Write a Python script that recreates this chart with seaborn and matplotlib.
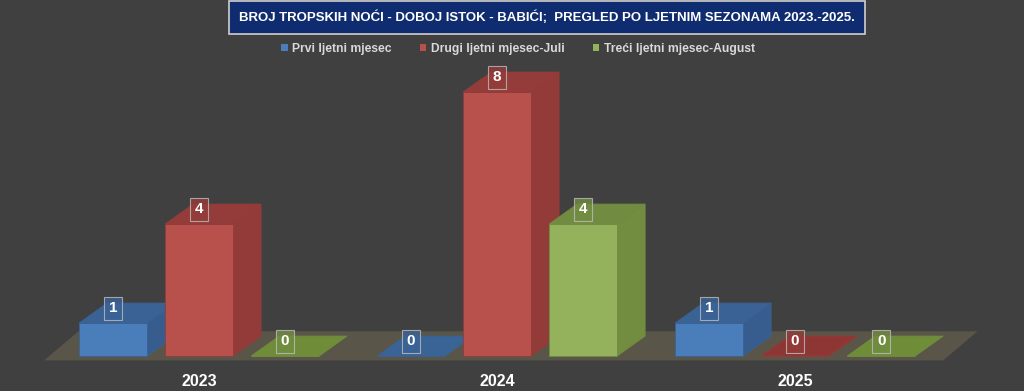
import pandas as pd
import seaborn as sns
import matplotlib.pyplot as plt
from matplotlib.patches import Polygon
from matplotlib import font_manager
import numpy as np

# Data
years = ['2023', '2024', '2025']
series = ['Prvi ljetni mjesec', 'Drugi ljetni mjesec-Juli', 'Treći ljetni mjesec-August']
prvi = [1, 0, 1]
drugi = [4, 8, 0]
treci = [0, 4, 0]

df = pd.DataFrame({
    'godina': years * 3,
    'serija': [series[0]] * 3 + [series[1]] * 3 + [series[2]] * 3,
    'noci': prvi + drugi + treci,
})

# colours: front, top, side
front = ['#4a7ebb', '#b8504c', '#94b25b']
top = ['#3a6295', '#933c3a', '#718c40']
side = ['#365d8e', '#923b39', '#728d40']
flat = ['#3a6396', '#8e3634', '#6f8c38']
bg = '#404040'

names = {f.name for f in font_manager.fontManager.ttflist}
fam = 'Liberation Sans Narrow' if 'Liberation Sans Narrow' in names else 'Liberation Sans'

sns.set_theme(style='dark')
plt.rcParams['font.family'] = [fam, 'DejaVu Sans']

fig = plt.figure(figsize=(10.24, 3.91), dpi=100, facecolor=bg)
ax = fig.add_axes([0, 0.064, 1, 0.936])
ax.set_facecolor(bg)

sns.barplot(data=df, x='godina', y='noci', hue='serija', hue_order=series,
            palette=front, width=0.866, gap=0.21, saturation=1,
            linewidth=0, ax=ax)

ax.set_xlim(-0.668, 2.768)
ax.set_ylim(-0.30, 10.79)

dx, dy = 0.094, 0.606  # depth offset in data units

# bars with their hue index, one container per series
bars = []
for h, cont in enumerate(ax.containers):
    for b in cont:
        bars.append((b, h))
bars.sort(key=lambda t: t[0].get_x())

# floor
fx0, fx1, fy0 = -0.52, 2.497, -0.13
floor = Polygon([(fx0, fy0), (fx1, fy0), (fx1 + 0.115, fy0 + 0.88), (fx0 + 0.115, fy0 + 0.88)],
                closed=True, facecolor='#5a5549', edgecolor='none', zorder=0.5)
ax.add_patch(floor)

for k, (b, h) in enumerate(bars):
    x0 = b.get_x()
    w = b.get_width()
    y1 = b.get_height()
    z = 2 + k
    b.set_zorder(z + 0.2)
    b.set_facecolor(front[h])
    b.set_edgecolor(top[h])
    b.set_linewidth(0.6)
    tface = Polygon([(x0, y1), (x0 + w, y1), (x0 + w + dx, y1 + dy), (x0 + dx, y1 + dy)],
                    closed=True, facecolor=top[h] if y1 > 0 else flat[h], edgecolor=top[h],
                    lw=0.6, zorder=z + 0.1)
    ax.add_patch(tface)
    if y1 > 0:
        sface = Polygon([(x0 + w, 0), (x0 + w + dx, dy), (x0 + w + dx, y1 + dy), (x0 + w, y1)],
                        closed=True, facecolor=side[h], edgecolor=top[h], lw=0.6, zorder=z)
        ax.add_patch(sface)
    ax.text(x0 + w / 2, y1 + 0.45, f'{int(y1)}', ha='center', va='center',
            color='white', fontsize=11, fontweight='bold', zorder=50,
            bbox=dict(boxstyle='square,pad=0.3', facecolor=top[h], alpha=0.8,
                      edgecolor='#bdbdbd', linewidth=0.8))

ax.set_xlabel('')
ax.set_ylabel('')
ax.set_yticks([])
ax.tick_params(axis='x', colors='white', labelsize=11.5, pad=6, length=0)
for t in ax.get_xticklabels():
    t.set_fontweight('bold')
for s in ax.spines.values():
    s.set_visible(False)
ax.grid(False)

sns.move_legend(ax, 'center', bbox_to_anchor=(0.506, 0.867), ncol=3, frameon=False,
                title=None, handlelength=0.55, handleheight=0.6, handletextpad=0.4,
                columnspacing=2.3, fontsize=8.7)
for t in ax.get_legend().get_texts():
    t.set_color('#d9d9d9')
    t.set_fontweight('bold')

fig.text(0.534, 0.955, 'BROJ TROPSKIH NOĆI - DOBOJ ISTOK - BABIĆI;  PREGLED PO LJETNIM SEZONAMA 2023.-2025.',
         ha='center', va='center', color='white', fontsize=9.5, fontweight='bold',
         bbox=dict(boxstyle='square,pad=0.75', facecolor='#0f2c70', edgecolor='#d0d0d0', linewidth=1.2))

fig.savefig('out.png', dpi=100, facecolor=bg)
